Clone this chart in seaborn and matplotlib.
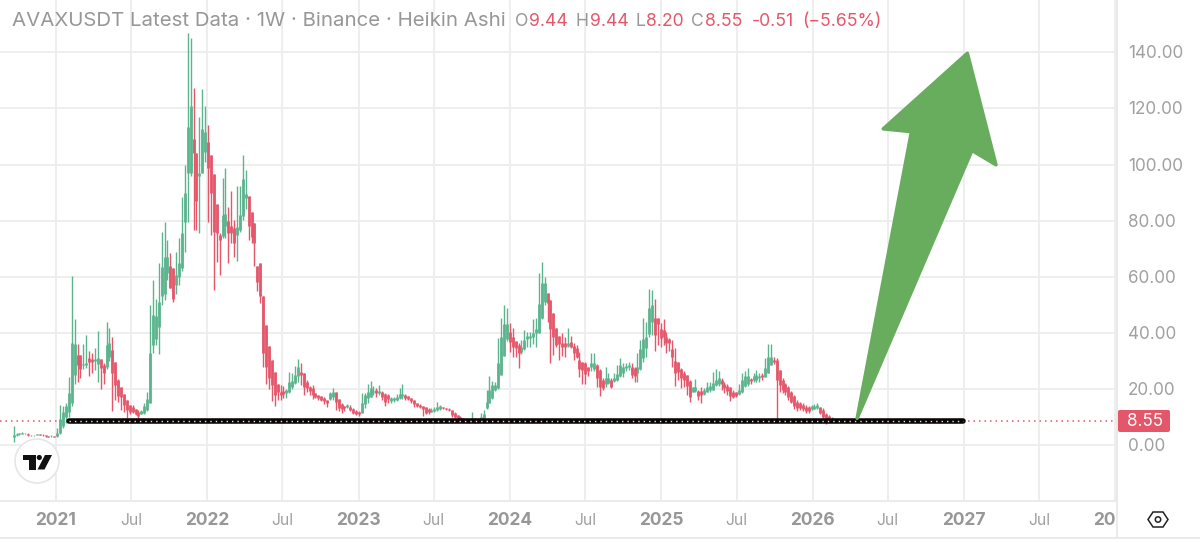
import matplotlib
matplotlib.use('Agg')
import matplotlib.pyplot as plt
from matplotlib.lines import Line2D
from matplotlib.patches import Circle, FancyBboxPatch, Polygon
from matplotlib.transforms import IdentityTransform
import pandas as pd
import seaborn as sns

first_week = '2020-09-21'

# weekly heikin ashi candles
opens = [2.8, 3.6, 3.9, 4.1, 4.3, 4.1, 3.7, 3.5, 3.7, 3.9, 3.8, 3.5, 3.3, 3.2, 3.3,
         3.2, 4.5, 7, 10, 12, 15, 25, 32, 32, 28.5, 28.6, 31, 30.6, 30, 29,
         30.6, 28.6, 27.8, 31.6, 34, 29.8, 23.3, 20.6, 18.3, 16.1, 14.3, 13.8, 12.8, 12, 11.2,
         11.6, 12.6, 15, 35.7, 38, 42, 53, 54, 61.3, 63.8, 63, 57, 60, 63, 79.6,
         97, 97, 109, 104, 96, 97, 104.6, 108, 103.4, 96.6, 86, 75, 74.6, 78, 80,
         78, 77.3, 75, 76.7, 81.5, 88, 88.8, 83, 79, 64, 64.8, 53, 43, 35.4, 30.4,
         26, 21.8, 19, 19.5, 18.7, 19.1, 20.9, 22.3, 24.5, 26, 25.9, 22.7, 20.9, 20.3, 18.5,
         17.8, 17.5, 17, 16.1, 16.4, 17.1, 18.8, 16.4, 14.7, 14, 13.5, 13.5, 12.8, 12.3, 12,
         11.6, 14.7, 16.7, 17.3, 19, 19.7, 18.5, 19.1, 18.1, 17.9, 15.8, 16, 16.3, 16.9, 17.6,
         18, 17.5, 16.7, 16.1, 15, 14.3, 14, 13.5, 13, 12, 12.2, 12.5, 13, 13.6, 13.3,
         13, 12.6, 11.6, 10.7, 10.2, 9.7, 9.3, 9, 8.7, 9.4, 9.1, 8.8, 9.4, 13.2, 15.2,
         16.7, 19.7, 20.3, 25, 31.8, 37.8, 40.5, 38.5, 37.3, 35.7, 33.3, 34.2, 38, 38.2, 38.4,
         39.9, 40.1, 45.2, 51.2, 54.1, 51.8, 47, 41.7, 38.9, 36.6, 36.6, 35.4, 36.9, 35.4, 34.5,
         30.4, 29.8, 29.2, 27.8, 28, 27, 28.6, 26.8, 23.3, 21.8, 22.3, 23.3, 22.9, 23.3, 24.5,
         25.9, 27.4, 27.8, 28, 27.4, 25.6, 27, 31, 34.5, 39.5, 44, 45.2, 45.2, 41.3, 41,
         38.7, 37.7, 34.2, 30, 29.8, 27, 25.9, 25, 22.9, 19.1, 19.5, 19.5, 19.5, 18.3, 19.1,
         19.7, 19.7, 21.4, 21.8, 23.3, 21.8, 21.1, 20.6, 19.1, 18.8, 18.3, 19.1, 21.1, 22, 23.5,
         23.3, 23.3, 23.9, 24.9, 24.4, 25.6, 28.6, 30.4, 30.4, 26.8, 23.3, 21.8, 20.6, 19.1, 17.5,
         15.5, 14.9, 14.4, 13.8, 13.5, 12.8, 13, 13.2, 13.5, 12.6, 11.1, 10.4, 9.7, 9.44]
closes = [3.6, 4.0, 4.2, 4.3, 4.2, 3.7, 3.5, 3.6, 3.9, 3.8, 3.5, 3.3, 3.1, 3.4, 3.0,
          4.5, 9.5, 12, 14, 18.5, 36.5, 36, 28.5, 27, 29, 29.3, 29.8, 29.8, 30.6, 31,
          27.4, 25.6, 35.7, 36.3, 25.6, 21.5, 17.6, 17.3, 14.3, 12.6, 12, 12, 11.2, 10.4, 12.3,
          14, 16.4, 32.8, 46.4, 46, 51, 63.6, 67, 67, 56, 52, 60.6, 65, 75.5, 90,
          113.5, 121, 104, 87, 97, 112.6, 111.7, 98.7, 89.8, 76, 75.5, 73, 82, 82.4, 75.5,
          75.5, 72, 77.6, 82, 94.8, 89.5, 78, 74.3, 72, 58, 53.2, 33, 28, 24, 21.5,
          18, 19.1, 18, 18.2, 19.7, 22.7, 23, 25, 28, 25, 20.9, 20.3, 19.5, 18, 17.1,
          16.7, 16.1, 15.9, 15, 18.5, 18.8, 15.5, 13.2, 12.8, 13.2, 14.2, 12.6, 11.6, 11.2, 11,
          15, 17.9, 19.1, 20.3, 19.5, 18.7, 19.5, 17.3, 15.5, 16.4, 16.7, 17, 17.2, 18.1, 18.2,
          17, 16.4, 15.8, 14.7, 14.1, 13.5, 12.9, 11.6, 11.7, 12.6, 13, 13.6, 14, 13.1, 12.9,
          12.4, 10.7, 10, 9.8, 9.3, 8.9, 8.7, 8.5, 9.6, 8.7, 8.6, 10, 11, 15.5, 19.7,
          21.5, 21.5, 29.2, 38.7, 43.2, 43.2, 36.9, 35.1, 34.5, 32.8, 35.1, 37.5, 38.9, 38.9, 39.9,
          41.3, 50.3, 57.7, 57.7, 50.8, 41.3, 38.7, 35.7, 36.1, 35.1, 34.9, 36.3, 35.1, 32.8, 31.6,
          27.1, 26.8, 25.4, 26.6, 29.2, 29.2, 23.8, 20.9, 20.3, 23.9, 23.9, 20.6, 23.9, 25.4, 28.6,
          27.8, 28.2, 28.6, 25, 24.5, 28, 34.2, 37.8, 38.5, 49, 50, 39.3, 43.2, 38.1, 38.7,
          36.3, 36.3, 31.3, 25.6, 26.2, 23.9, 23.3, 21.1, 17.3, 20.6, 20.6, 17.6, 17.9, 19.7, 20.9,
          21.1, 22.3, 23.3, 23.9, 21.8, 20.3, 19.5, 17.6, 17.3, 17.7, 19.7, 23.3, 24.7, 24.5, 22.9,
          24.5, 25, 24.7, 24.4, 27.4, 31.6, 31.6, 29.8, 23.3, 21.5, 19.7, 18.8, 17.3, 15.5, 14,
          13.2, 13.2, 12.8, 12.3, 12.3, 14, 14.1, 14.4, 11.6, 10.2, 9, 9, 8.9, 8.55]
highs = [6.9, 4.4, 4.5, 4.6, 4.4, 4.3, 3.8, 3.7, 4.0, 4.0, 3.9, 3.6, 3.4, 3.5, 3.4,
         6, 14.5, 14, 15, 24.4, 60.3, 45, 36, 32, 36, 39.3, 33.6, 32.8, 34.5, 40.7,
         30.6, 29.2, 44, 41.7, 38.5, 29.8, 23.5, 20.6, 18.3, 16.1, 14.5, 14.4, 12.8, 12.6, 12.6,
         15, 19, 50, 58.9, 52, 64.8, 76, 79.7, 73, 68.6, 63, 69, 74, 88.6, 100,
         146.8, 145, 127.4, 104, 117, 127, 121, 114, 103.4, 96.6, 86, 75.5, 95.3, 98.6, 85,
         90.6, 80.3, 92.4, 92.4, 103.4, 98, 88.8, 83, 79, 64, 64.8, 53, 43, 35.4, 30.4,
         26, 22, 21.5, 21, 20, 26.2, 25.9, 28.3, 30.7, 29.2, 25.9, 23.2, 21.1, 21.5, 18.5,
         18, 17.6, 17.1, 16.2, 19.1, 20.5, 19.1, 16.4, 14.9, 14, 14.7, 14.4, 13.2, 12.4, 12.1,
         18.5, 18.5, 21.7, 22.9, 21.1, 20.3, 21.5, 19.5, 18.5, 18.3, 17.1, 17.3, 18.3, 20.3, 21.8,
         18.3, 17.7, 16.9, 16.3, 15.2, 14.6, 14.1, 13.6, 13.3, 13.2, 13.5, 15.5, 14.4, 13.7, 13.4,
         13.2, 12.7, 11.7, 10.8, 10.3, 9.8, 9.4, 9.2, 11.7, 9.8, 9.6, 11.5, 12.6, 19.7, 24.7,
         23, 22.7, 38.1, 45.2, 50, 49, 43.7, 41.7, 37.3, 36.6, 37.5, 41, 40.5, 40.5, 44.8,
         45.2, 61.3, 65.4, 60, 54.1, 51.8, 47, 41.7, 38.9, 39.9, 38.5, 41.7, 38.9, 36.3, 35.7,
         33.4, 29.8, 29.8, 28, 33, 33, 29, 27, 23.9, 28, 25.6, 23.9, 25.6, 28.6, 31,
         29.2, 29.4, 29.8, 29.4, 27.8, 33, 37.5, 45.2, 44, 55.6, 55.3, 52, 45.2, 43.4, 44.9,
         40.5, 38.1, 37.5, 34.5, 29.8, 27.4, 26.6, 25, 23.3, 20.9, 23.5, 19.7, 20.9, 20.3, 22.7,
         22.7, 26.2, 27, 26.6, 23.9, 22.7, 21.8, 20.9, 19.7, 18.9, 21.8, 25.6, 26.6, 27.4, 24.1,
         25.6, 26.8, 25.6, 25.6, 31.2, 36.1, 36.1, 31.3, 31, 26.8, 23.9, 22.1, 21.1, 19.5, 17.9,
         16.1, 15.5, 15.2, 14.4, 14, 14.4, 14.7, 15, 13.8, 13.1, 11.4, 10.8, 9.9, 9.44]
lows = [1.3, 3.4, 3.7, 3.9, 3.9, 3.4, 3.2, 3.3, 3.5, 3.6, 3.3, 3.1, 2.9, 3.0, 2.8,
        3, 4.0, 6, 8, 10, 14, 22, 22.5, 24, 27, 27.4, 24.5, 25.6, 26.8, 22.7,
        20, 22, 27, 30, 12.3, 16, 15.5, 12.6, 12, 9.6, 11, 11.4, 10.8, 9.2, 11,
        11, 12.3, 15, 32.8, 35.7, 32.5, 50, 51.7, 59, 56, 51, 54, 57, 62, 69,
        79.6, 96, 76.7, 76.7, 75.7, 97, 101, 79.7, 75, 55.3, 65.4, 60.7, 74, 74, 64.8,
        72, 67.2, 65.8, 76, 80.3, 84, 73, 72, 64, 55, 50.8, 27.8, 21.7, 20, 15.6,
        14, 16.3, 16, 16.7, 16.7, 18.5, 20, 21.8, 22.7, 21.5, 18, 19, 18, 16.4, 16.7,
        16.3, 15.8, 14.6, 13.5, 16, 16, 12.6, 12.3, 11.6, 12.3, 13.2, 12.3, 11.1, 10.7, 10.5,
        11.6, 13.2, 14.9, 17.1, 18, 17.1, 17.9, 16.1, 14.1, 15, 15.2, 15.5, 15.6, 16.6, 16.6,
        16.3, 16, 15.2, 13.8, 13.5, 13.3, 10.4, 11, 11, 11.7, 12, 12.2, 12.6, 12.8, 12.6,
        12.1, 10.2, 9.7, 9.3, 8.8, 8.3, 8.2, 8.1, 8.5, 8.1, 8.3, 8.6, 9.3, 13, 15,
        16.6, 19.3, 20, 25, 31.8, 37, 33.4, 31.3, 31.3, 27.4, 32.5, 33.8, 35.1, 34.9, 36,
        35.1, 40, 45, 50, 44, 29.4, 32.2, 35, 30.4, 31.8, 31.6, 35.1, 34.5, 30.4, 31,
        24.2, 21.8, 22, 24.7, 26.6, 26.6, 20.9, 17.6, 19.7, 20.6, 21.8, 20.3, 22.6, 23, 24.2,
        24.2, 26.6, 26.8, 23.8, 22.7, 22.7, 26.8, 29.8, 31.6, 38.5, 39.3, 33.7, 35.7, 35.1, 35.7,
        33, 33.5, 27.8, 21.2, 23.3, 20.3, 20.9, 17.9, 15.5, 18.8, 19, 16.1, 14.9, 17.9, 18.8,
        19.1, 19.7, 21.1, 21.1, 19.7, 18.5, 17.9, 15.9, 16.7, 17.3, 17.9, 18.5, 20.6, 21.1, 21.8,
        22.7, 22.7, 22.7, 23.3, 24.2, 25.6, 28.6, 28.9, 8.4, 19, 18.5, 17.9, 16.1, 14.9, 12.8,
        12.3, 12.6, 12.3, 11.6, 11.6, 12.6, 12.8, 12.8, 11.1, 9.6, 7.6, 8.4, 8.6, 8.2]

support_level = 8.55
support_start = '2021-02-01'
support_end = '2026-12-29'

# big hand drawn arrow, (date, price) of each corner
arrow_dates = ['2026-04-18', '2026-08-27', '2026-06-20', '2027-01-09', '2027-03-19', '2027-01-20']
arrow_prices = [9.6, 111.7, 112.7, 139.65, 99.9, 105]

price_ticks = [0, 20, 40, 60, 80, 100, 120, 140]
year_ticks = ['2021-01-01', '2022-01-01', '2023-01-01', '2024-01-01',
              '2025-01-01', '2026-01-01', '2027-01-01', '2028-01-01']
jul_ticks = ['2021-07-01', '2022-07-01', '2023-07-01', '2024-07-01',
             '2025-07-01', '2026-07-01', '2027-07-01']

header_name = 'AVAXUSDT Latest Data · 1W · Binance · Heikin Ashi'
header_parts = [('O', 515, 'g'), ('9.44', 529, 'r'), ('H', 575.5, 'g'), ('9.44', 590, 'r'),
                ('L', 635.5, 'g'), ('8.20', 646, 'r'), ('C', 691.5, 'g'), ('8.55', 705, 'r'),
                ('-0.51', 751.5, 'r'), ('(−5.65%)', 802.5, 'r')]

GREEN = '#5cb48e'
RED = '#e4566a'
GREY = '#979797'
GRID = '#ededed'

sns.set_theme(style='white')
plt.rcParams['font.family'] = ['Inter', 'DejaVu Sans']

W, H = 1200, 543
fig = plt.figure(figsize=(W / 100, H / 100), dpi=100, facecolor='white')
ax = fig.add_axes([0, 1 - 500.5 / H, 1117 / W, 500.5 / H])
PIXELS = IdentityTransform()


def px(x, y):
    # figure fraction from pixel position, y going down
    return x / W, 1 - y / H


weeks = pd.date_range(first_week, periods=len(opens), freq='7D')
df = pd.DataFrame({'week': weeks, 'open': opens, 'high': highs, 'low': lows, 'close': closes})
df['side'] = ['up' if c >= o else 'down' for o, c in zip(df['open'], df['close'])]

wicks = df.melt(id_vars=['week', 'side'], value_vars=['low', 'high'], value_name='price')
bodies = df.melt(id_vars=['week', 'side'], value_vars=['open', 'close'], value_name='price')
palette = {'up': GREEN, 'down': RED}

ax.axhline(support_level, color=RED, lw=1.1, ls=(0, (1, 2.6)), zorder=1.5)

sns.lineplot(data=wicks, x='week', y='price', hue='side', units='week', estimator=None,
             sort=False, palette=palette, lw=1.0, legend=False, ax=ax,
             solid_capstyle='butt', zorder=3)
sns.lineplot(data=bodies, x='week', y='price', hue='side', units='week', estimator=None,
             sort=False, palette=palette, lw=2.0, legend=False, ax=ax,
             solid_capstyle='butt', zorder=3)

level = pd.DataFrame({'date': pd.to_datetime([support_start, support_end]),
                      'price': [support_level, support_level]})
sns.lineplot(data=level, x='date', y='price', color='#0a0505', lw=4.0, ax=ax,
             solid_capstyle='round', zorder=4)
sns.lineplot(data=level, x='date', y='price', color='#f6dcdc', lw=1, ax=ax,
             linestyle=(0, (1, 2.9)), zorder=5)

arrow_x = pd.to_datetime(arrow_dates)
ax.fill(arrow_x, arrow_prices, facecolor='#67ad5d', edgecolor='#67ad5d', lw=2.5,
        joinstyle='round', zorder=6)

ax.set_xlim(pd.Timestamp('2020-08-19'), pd.Timestamp('2028-01-05'))
ax.set_ylim(-19.67, 158.6)
ax.set_xlabel('')
ax.set_ylabel('')

grid_dates = pd.to_datetime(year_ticks + jul_ticks)
ax.set_xticks(grid_dates)
ax.set_yticks(price_ticks)
ax.set_xticklabels([])
ax.set_yticklabels([])
ax.tick_params(length=0)
ax.grid(True, color=GRID, lw=1.3, zorder=0)
ax.set_axisbelow(True)
sns.despine(ax=ax, left=True, top=True, right=False, bottom=False)
for side in ['right', 'bottom']:
    ax.spines[side].set_color('#e9e9e9')
    ax.spines[side].set_linewidth(1.3)

# axis labels sit in the panes outside the plot
for value in price_ticks:
    ax.annotate(f'{value:.2f}', xy=(1, value), xycoords=('axes fraction', 'data'),
                xytext=(11, -1.5), textcoords='offset pixels', color='#a0a0a0', fontsize=12.3,
                va='center', ha='left', annotation_clip=False)
for date in year_ticks:
    ax.annotate(date[:4], xy=(pd.Timestamp(date), 0), xycoords=('data', 'axes fraction'),
                xytext=(0, -20), textcoords='offset pixels', color=GREY, fontsize=12.5,
                fontweight='bold', ha='center', va='center', annotation_clip=False)
for date in jul_ticks:
    ax.annotate('Jul', xy=(pd.Timestamp(date), 0), xycoords=('data', 'axes fraction'),
                xytext=(0, -20), textcoords='offset pixels', color='#a0a0a0', fontsize=11.3,
                ha='center', va='center', annotation_clip=False)

# cover for the last year label running under the price pane
fig.add_artist(FancyBboxPatch((1117, H - 539), 83, 38, boxstyle='square,pad=0', transform=PIXELS,
                              facecolor='white', edgecolor='none', zorder=4))

fig.add_artist(Line2D([1117 / W, 1117 / W], [px(0, 0)[1], px(0, 538)[1]], color='#e9e9e9',
                      lw=1.3, zorder=5))
fig.add_artist(Line2D([0, 1], [px(0, 538)[1]] * 2, color='#e9e9e9', lw=1.3, zorder=5))

x, y = px(12, 21.5)
fig.text(x, y, header_name, color=GREY, fontsize=14.7, va='center', ha='left', zorder=7)
for text, left, tone in header_parts:
    x, y = px(left, 21.5)
    fig.text(x, y, text, color=RED if tone == 'r' else GREY, fontsize=12.7, va='center',
             ha='left', zorder=7)

# last price tag
fig.add_artist(FancyBboxPatch((1118, H - 432), 52, 22, boxstyle='round,pad=0,rounding_size=2',
                              transform=PIXELS, facecolor=RED, edgecolor='none', zorder=6))
x, y = px(1145, 421.5)
fig.text(x, y, f'{support_level:.2f}', color='white', fontsize=12.3, va='center', ha='center',
         zorder=7)

# logo badge bottom left
fig.add_artist(Circle((37, H - 461), 22, transform=PIXELS, facecolor='white', edgecolor='#e6e6e6',
                      lw=1.2, zorder=7))
logo_t = [(23, 455), (36, 455), (36, 469.5), (28.5, 469.5), (28.5, 460), (23, 460)]
logo_bar = [(45, 455), (52, 455), (44.5, 469.5), (37.5, 469.5)]
for shape in [logo_t, logo_bar]:
    fig.add_artist(Polygon([(a, H - b) for a, b in shape], closed=True, transform=PIXELS,
                           facecolor='#111111', edgecolor='none', zorder=8))
fig.add_artist(Circle((39.3, H - 457.5), 2.6, transform=PIXELS, facecolor='#111111',
                      edgecolor='none', zorder=8))

# settings icon bottom right
hexagon = [(1148, 519.5), (1153, 512), (1163, 512), (1168, 519.5), (1163, 527), (1153, 527)]
fig.add_artist(Polygon([(a, H - b) for a, b in hexagon], closed=True, transform=PIXELS,
                       facecolor='white', edgecolor='#222222', lw=1.1, zorder=8))
fig.add_artist(Circle((1158, H - 519.5), 2.7, transform=PIXELS, facecolor='white',
                      edgecolor='#222222', lw=1.1, zorder=9))

fig.savefig('out.png', dpi=100)
